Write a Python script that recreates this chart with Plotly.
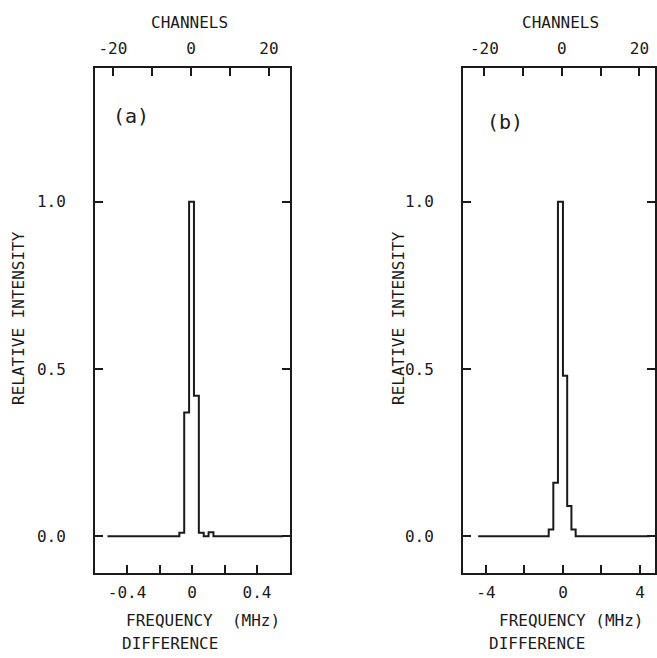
import plotly.graph_objects as go

# ---- data ----
# panel (a): histogram bin edges in MHz and relative intensity per bin
edges_a = [-0.52, -0.078, -0.048, -0.018, 0.012, 0.042, 0.072, 0.102, 0.132, 0.56]
inten_a = [0.0, 0.01, 0.37, 1.0, 0.42, 0.01, 0.0, 0.012, 0.0]

# panel (b)
edges_b = [-4.4, -0.74, -0.50, -0.26, 0.0, 0.22, 0.44, 0.66, 4.5]
inten_b = [0.0, 0.02, 0.16, 1.0, 0.48, 0.09, 0.02, 0.0]

freq_ticks_a = [-0.4, -0.2, 0.0, 0.2, 0.4]
freq_text_a = ["-0.4", "", "0", "", "0.4"]
freq_ticks_b = [-4, -2, 0, 2, 4]
freq_text_b = ["-4", "", "0", "", "4"]
chan_ticks = [-20, -10, 0, 10, 20]
chan_text = ["-20", "", "0", "", "20"]
int_ticks = [0.0, 0.5, 1.0]
int_text = ["0.0", "0.5", "1.0"]

W, H = 657, 658
FONT = "DejaVu Sans Mono"
INK = "#1a1a1a"


def px(x):
    return x / W


def py(y):
    return 1 - y / H


fig = go.Figure()
fig.add_trace(go.Scatter(x=edges_a, y=inten_a + [inten_a[-1]], mode="lines",
                         line=dict(shape="hv", color=INK, width=2),
                         xaxis="x", yaxis="y", showlegend=False))
fig.add_trace(go.Scatter(x=edges_b, y=inten_b + [inten_b[-1]], mode="lines",
                         line=dict(shape="hv", color=INK, width=2),
                         xaxis="x3", yaxis="y2", showlegend=False))
# empty helper traces so the top (channel) axes get drawn
fig.add_trace(go.Scatter(x=[chan_ticks[0], chan_ticks[-1]], y=[None, None],
                         mode="lines", xaxis="x2", yaxis="y",
                         showlegend=False, hoverinfo="skip"))
fig.add_trace(go.Scatter(x=[chan_ticks[0], chan_ticks[-1]], y=[None, None],
                         mode="lines", xaxis="x4", yaxis="y2",
                         showlegend=False, hoverinfo="skip"))

dom_a = [px(95), px(290)]
dom_b = [px(463), px(655)]
dom_y = [py(573), py(68)]

tickfont = dict(family=FONT, size=16, color=INK)
common_x = dict(showgrid=False, zeroline=False, showline=True, linewidth=2,
                linecolor=INK, ticks="inside", ticklen=8, tickwidth=2,
                tickcolor=INK, tickfont=tickfont)

fig.update_layout(
    width=W, height=H, margin=dict(l=0, r=0, t=0, b=0),
    paper_bgcolor="white", plot_bgcolor="white",
    xaxis=dict(domain=dom_a, anchor="y", range=[-0.597, 0.603],
               tickmode="array", tickvals=freq_ticks_a, ticktext=freq_text_a,
               mirror=True, ticklabelstandoff=4, **common_x),
    xaxis2=dict(overlaying="x", side="top", anchor="y", range=[-24.6, 25.4],
                tickmode="array", tickvals=chan_ticks, ticktext=chan_text,
                ticklabelstandoff=6, **common_x),
    xaxis3=dict(domain=dom_b, anchor="y2", range=[-5.19, 4.78],
                tickmode="array", tickvals=freq_ticks_b, ticktext=freq_text_b,
                mirror=True, ticklabelstandoff=4, **common_x),
    xaxis4=dict(overlaying="x3", side="top", anchor="y2", range=[-25.5, 24.0],
                tickmode="array", tickvals=chan_ticks, ticktext=chan_text,
                ticklabelstandoff=6, **common_x),
    yaxis=dict(domain=dom_y, anchor="x", range=[-0.11, 1.40],
               tickmode="array", tickvals=int_ticks, ticktext=int_text,
               mirror="ticks", ticklabelstandoff=24, **common_x),
    yaxis2=dict(domain=dom_y, anchor="x3", range=[-0.11, 1.40],
                tickmode="array", tickvals=int_ticks, ticktext=int_text,
                mirror="ticks", ticklabelstandoff=24, **common_x),
)

ann_font = dict(family=FONT, size=16, color=INK)
anns = [
    dict(text="CHANNELS", x=px(189), y=py(22)),
    dict(text="CHANNELS", x=px(560), y=py(22)),
    dict(text="(a)", x=px(131), y=py(116), font=dict(family=FONT, size=20, color=INK)),
    dict(text="(b)", x=px(505), y=py(122), font=dict(family=FONT, size=20, color=INK)),
    dict(text="RELATIVE INTENSITY", x=px(18), y=py(318), textangle=-90),
    dict(text="RELATIVE INTENSITY", x=px(398), y=py(318), textangle=-90),
    dict(text="FREQUENCY  (MHz)", x=px(124), y=py(620), xanchor="left"),
    dict(text="DIFFERENCE", x=px(120), y=py(643), xanchor="left"),
    dict(text="FREQUENCY (MHz)", x=px(497), y=py(620), xanchor="left"),
    dict(text="DIFFERENCE", x=px(487), y=py(643), xanchor="left"),
]
for a in anns:
    a.setdefault("font", ann_font)
    a.setdefault("xanchor", "center")
    a.update(xref="paper", yref="paper", yanchor="middle", showarrow=False)
    fig.add_annotation(**a)

fig.write_html("out.html")
